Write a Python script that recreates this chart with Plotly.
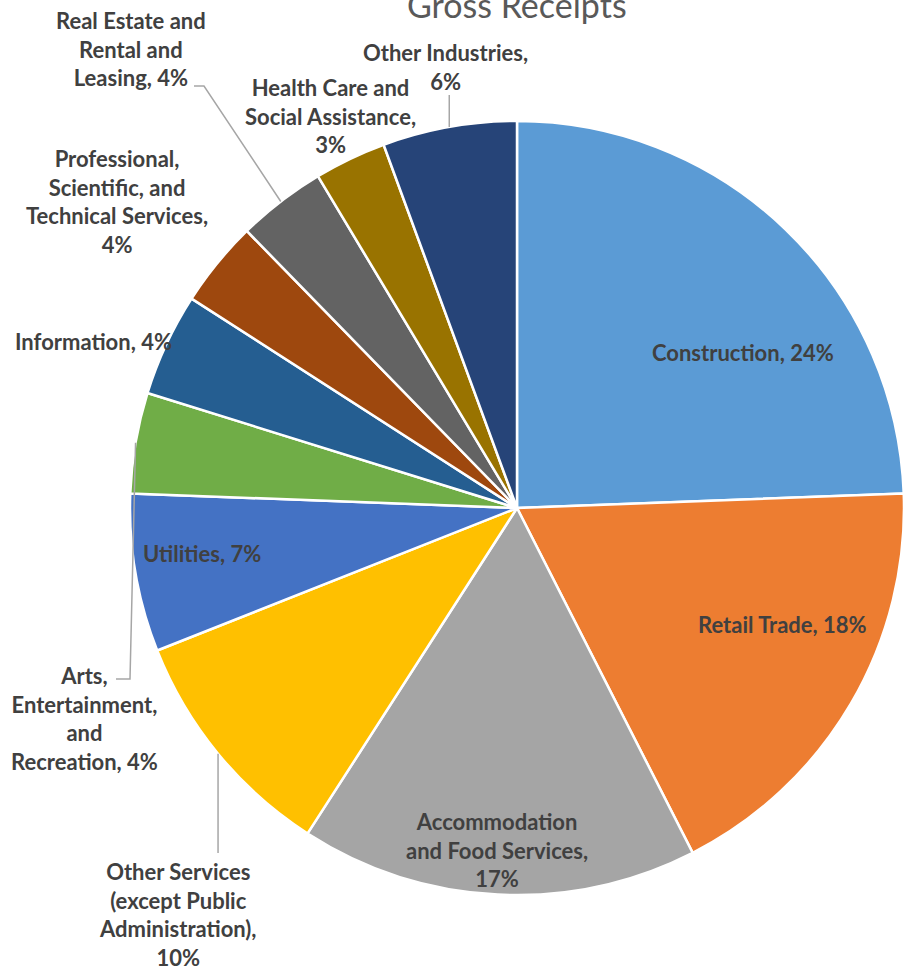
import plotly.graph_objects as go
import math

# ---------------- data ----------------
categories = [
    "Construction", "Retail Trade", "Accommodation and Food Services",
    "Other Services (except Public Administration)", "Utilities",
    "Arts, Entertainment, and Recreation", "Information",
    "Professional, Scientific, and Technical Services",
    "Real Estate and Rental and Leasing",
    "Health Care and Social Assistance", "Other Industries",
]
shares = [24.4, 18.1, 16.6, 9.9, 6.6, 4.2, 4.3, 3.6, 3.7, 3.0, 5.6]
title_text = "Gross Receipts"

# wrapped label text (as displayed) and separator before the percent
wrapped = [
    "Construction", "Retail Trade", "Accommodation<br>and Food Services",
    "Other Services<br>(except Public<br>Administration)", "Utilities",
    "Arts,<br>Entertainment,<br>and<br>Recreation", "Information",
    "Professional,<br>Scientific, and<br>Technical Services",
    "Real Estate and<br>Rental and<br>Leasing",
    "Health Care and<br>Social Assistance", "Other Industries",
]
seps = [", ", ", ", ",<br>", ",<br>", ", ", ", ", ", ", ",<br>", ", ", ",<br>", ",<br>"]

colors = ["#5B9BD5", "#ED7D31", "#A5A5A5", "#FFC000", "#4472C4", "#70AD47",
          "#255E91", "#9E480E", "#636363", "#997300", "#264478"]

# ---------------- layout geometry ----------------
W, H = 905, 970
CX, CY, R = 517, 508, 387

def px(x, y):
    return x / W, 1 - y / H

# label centres (pixels)
label_pos = [(743, 352), (782, 624), (497, 850), (178, 914), (202, 553),
             (84, 718), (93, 341), (117, 201), (131, 49), (330, 116), (445, 67)]

total = sum(shares)
pcts = [f"{round(v / total * 100)}%" for v in shares]
texts = [w + s + p for w, s, p in zip(wrapped, seps, pcts)]

fig = go.Figure(go.Pie(
    values=shares, labels=categories, sort=False, direction="clockwise",
    rotation=0, textinfo="none", hoverinfo="label+percent",
    marker=dict(colors=colors, line=dict(color="white", width=2.5)),
    domain=dict(x=[(CX - R) / W, (CX + R) / W],
                y=[(H - CY - R) / H, (H - CY + R) / H]),
    showlegend=False,
))

font = dict(family="Lato", size=22, color="#404040", weight="bold")
for t, (lx, ly) in zip(texts, label_pos):
    x, y = px(lx, ly)
    fig.add_annotation(text=t, x=x, y=y, xref="paper", yref="paper",
                       showarrow=False, align="center", font=font,
                       xanchor="center", yanchor="middle")

# leader lines: start at slice outer-edge midpoint computed from data
cum = 0
mids = []
for v in shares:
    a0 = cum / total * 360
    cum += v
    a1 = cum / total * 360
    mids.append(math.radians((a0 + a1) / 2))

def edge(i):
    a = mids[i]
    return CX + R * math.sin(a), CY - R * math.cos(a)

leaders = {
    8: [(204, 86), (194, 86)],
    10: [(None, 95)],
    5: [(130, 679), (116, 679)],
    3: [(None, 853)],
}
for i, pts in leaders.items():
    ex, ey = edge(i)
    path_pts = [(ex, ey)]
    for (x, y) in pts:
        path_pts.append((ex if x is None else x, y))
    d = "M " + " L ".join(f"{px(x, y)[0]:.5f},{px(x, y)[1]:.5f}" for x, y in path_pts)
    fig.add_shape(type="path", path=d, xref="paper", yref="paper",
                  line=dict(color="#A6A6A6", width=1.5))

fig.add_annotation(text=title_text, x=px(517, 0)[0], y=1, xref="paper", yref="paper",
                   showarrow=False, xanchor="center", yanchor="middle", yshift=-4,
                   font=dict(family="Lato", size=34, color="#595959"))

fig.update_layout(width=W, height=H, margin=dict(l=0, r=0, t=0, b=0),
                  paper_bgcolor="white", plot_bgcolor="white")

fig.write_html("out.html", config={"displayModeBar": False},
               post_script="document.body.style.margin='0';")
